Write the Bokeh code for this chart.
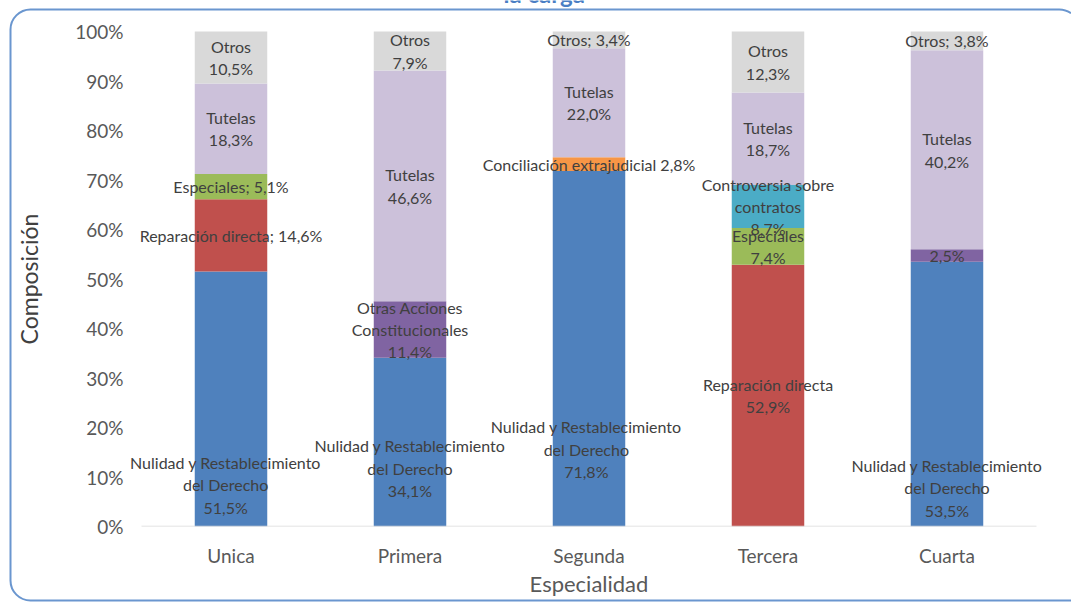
from bokeh.plotting import figure
from bokeh.models import (ColumnDataSource, FactorRange, Range1d, PrintfTickFormatter,
                          Label, FixedTicker, LinearAxis)
from bokeh.transform import dodge
from bokeh.core.properties import value
from bokeh.embed import file_html
from bokeh.resources import INLINE

# ---------------- data ----------------
categories = ["Unica", "Primera", "Segunda", "Tercera", "Cuarta"]

nulidad       = [51.5, 34.1, 71.8, 0.0, 53.5]
reparacion    = [14.6, 0.0, 0.0, 52.9, 0.0]
especiales    = [5.1, 0.0, 0.0, 7.4, 0.0]
controversia  = [0.0, 0.0, 0.0, 8.7, 0.0]
conciliacion  = [0.0, 0.0, 2.8, 0.0, 0.0]
otras_acc     = [0.0, 11.4, 0.0, 0.0, 2.5]
tutelas       = [18.3, 46.6, 22.0, 18.7, 40.2]
otros         = [10.5, 7.9, 3.4, 12.3, 3.8]

series_keys = ["nulidad", "reparacion", "especiales", "controversia",
               "conciliacion", "otras_acc", "tutelas", "otros"]
series_values = [nulidad, reparacion, especiales, controversia,
                 conciliacion, otras_acc, tutelas, otros]
series_names = ["Nulidad y Restablecimiento\ndel Derecho", "Reparación directa",
                "Especiales", "Controversia sobre\ncontratos", "Conciliación extrajudicial",
                "Otras Acciones\nConstitucionales", "Tutelas", "Otros"]
y_ticks = [0, 10, 20, 30, 40, 50, 60, 70, 80, 90, 100]
title_text = "la carga"
x_title = "Especialidad"
y_title = "Composición"

# ---------------- styles ----------------
colors = ["#4F81BD", "#C0504D", "#9BBB59", "#4BACC6",
          "#F79646", "#8064A2", "#CCC1DA", "#D9D9D9"]

default_sep = "\n"
label_sep = {
    ("Unica", "especiales"): "; ",
    ("Unica", "reparacion"): "; ",
    ("Segunda", "otros"): "; ",
    ("Segunda", "conciliacion"): " ",
    ("Cuarta", "otros"): "; ",
    ("Cuarta", "otras_acc"): None,
}
# manual label moves (vertical in percentage points, horizontal in category widths)
label_shift = {
    ("Unica", "nulidad"): -17.3,
    ("Primera", "nulidad"): -5.3,
    ("Segunda", "nulidad"): -20.3,
    ("Cuarta", "nulidad"): -18.9,
}
label_dx = {
    ("Unica", "nulidad"): -0.03,
    ("Segunda", "nulidad"): -0.015,
}

FONT = "Lato"
W, H = 1071, 603
PX_PER_PCT = 4.95          # 100 % spans 495 px
FRAME_BOTTOM = 526         # canvas y of the 0 % line
Y_END = FRAME_BOTTOM / PX_PER_PCT   # frame reaches the top of the canvas

data = {"cat": categories}
for k, v in zip(series_keys, series_values):
    data[k] = v
source = ColumnDataSource(data)

p = figure(x_range=FactorRange(*categories, range_padding=0.038),
           y_range=Range1d(0, Y_END),
           width=W, height=H, output_backend="svg", toolbar_location=None, title=None,
           min_border_left=124, min_border_right=18, min_border_top=0,
           min_border_bottom=H - FRAME_BOTTOM)
p.outline_line_color = None
p.background_fill_color = None
p.border_fill_color = None
p.grid.visible = False

# rounded chart-area border (open on the right, which lies beyond the page edge),
# drawn behind the transparent canvas
svg = ("<svg xmlns='http://www.w3.org/2000/svg' width='1071' height='603'>"
       "<path d='M1071 13.3 A20 20 0 0 0 1058 9.5 H30.5 A20 20 0 0 0 10.5 29.5 V580.5 "
       "A20 20 0 0 0 30.5 600.5 H1071' fill='none' stroke='%236A96CF' stroke-width='2'/></svg>")
p.styles = {"background-color": "white",
            "background-image": f"url(\"data:image/svg+xml;utf8,{svg}\")",
            "background-repeat": "no-repeat",
            "background-position": "0px 0px"}

p.vbar_stack(series_keys, x="cat", width=0.405, color=colors, source=source, line_color=None)

# baseline (category axis line) spanning the categories
base_src = ColumnDataSource({"x0": [categories[0]], "x1": [categories[-1]], "y": [0]})
p.segment(x0=dodge("x0", -0.5, range=p.x_range), y0="y",
          x1=dodge("x1", 0.5, range=p.x_range), y1="y",
          source=base_src, line_color="#D9D9D9", line_width=1.5)

# data labels (x in synthetic category coordinates: centre of i-th category = i + 0.5)
lx, ly, lt = [], [], []
for i, c in enumerate(categories):
    base = 0.0
    for k, nm, vals in zip(series_keys, series_names, series_values):
        v = vals[i]
        if v > 0:
            vs = f"{v:.1f}".replace(".", ",") + "%"
            sep = label_sep.get((c, k), default_sep)
            txt = vs if sep is None else nm + sep + vs
            lx.append(i + 0.5 + label_dx.get((c, k), 0.0))
            ly.append(base + v / 2 + label_shift.get((c, k), 0.0))
            lt.append(txt)
        base += v
p.text(x=lx, y=ly, text=lt, text_align="center", text_baseline="middle",
       text_font=value(FONT), text_font_size="16px", text_color="#404040",
       text_line_height=1.18)

# y axis (percent ticks)
yax = p.yaxis[0]
yax.ticker = FixedTicker(ticks=y_ticks)
yax.formatter = PrintfTickFormatter(format="%d%%")
yax.axis_line_color = None
yax.major_tick_line_color = None
yax.minor_tick_line_color = None
yax.major_tick_out = 0
yax.major_tick_in = 0
yax.major_label_text_font = FONT
yax.major_label_text_font_size = "19px"
yax.major_label_text_color = "#595959"
yax.major_label_standoff = 1

# y axis title, centred on the 0-100 % span (outer left axis)
ytitle_axis = LinearAxis(ticker=FixedTicker(ticks=[50]),
                         major_label_overrides={50: y_title},
                         major_label_orientation="vertical",
                         axis_line_color=None, major_tick_line_color=None,
                         minor_tick_line_color=None, major_tick_out=0, major_tick_in=0,
                         major_label_text_font=FONT, major_label_text_font_size="23px",
                         major_label_text_color="#404040", major_label_standoff=30)
p.add_layout(ytitle_axis, "left")

# x axis
xax = p.xaxis[0]
xax.axis_line_color = None
xax.major_tick_line_color = None
xax.minor_tick_line_color = None
xax.major_tick_out = 0
xax.major_tick_in = 0
xax.major_label_text_font = FONT
xax.major_label_text_font_size = "19px"
xax.major_label_text_color = "#595959"
xax.major_label_standoff = 17
xax.axis_label = x_title
xax.axis_label_text_font = FONT
xax.axis_label_text_font_size = "22px"
xax.axis_label_text_font_style = "normal"
xax.axis_label_text_color = "#595959"
xax.axis_label_standoff = 0

# partially visible title at the very top
title = Label(x=2.25, y=(FRAME_BOTTOM + 7.5) / PX_PER_PCT, x_units="data", y_units="data",
              text=title_text, text_font=FONT, text_font_size="24px",
              text_font_style="bold", text_color="#4A7EC4",
              text_align="center", text_baseline="alphabetic")
p.add_layout(title)

open("out.html", "w").write(file_html(p, INLINE))
